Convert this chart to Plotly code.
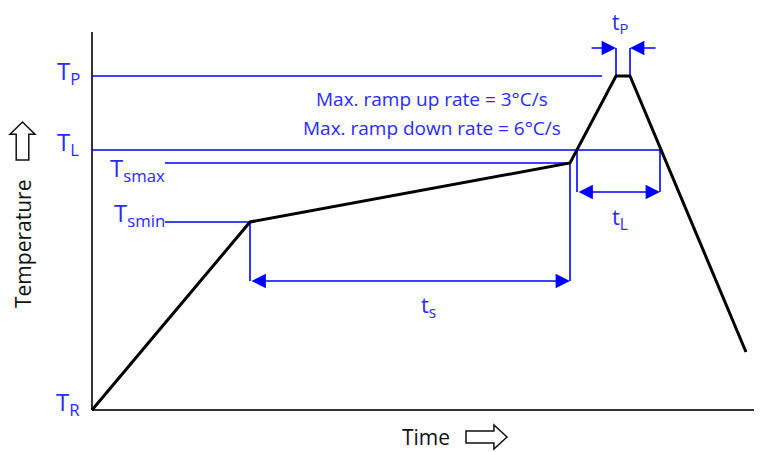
import plotly.graph_objects as go

# ---- data (time / temperature in arbitrary plot units) ----
profile_time = [0, 158, 478, 524, 538, 654]
profile_temp = [0, 188, 247, 334, 334, 58]

T_R, T_SMIN, T_SMAX, T_L, T_P = 0, 188, 247, 260, 334
t_soak = [158, 478]          # ts span
t_liq = [485, 568]           # tL span
t_peak = [524, 538]          # tp span

level_texts = ["T<sub>P</sub>", "T<sub>L</sub>", "T<sub>smax</sub>", "T<sub>smin</sub>", "T<sub>R</sub>"]
rate_texts = ["Max. ramp up rate = 3°C/s", "Max. ramp down rate = 6°C/s"]
span_texts = ["t<sub>s</sub>", "t<sub>L</sub>", "t<sub>P</sub>"]
x_title, y_title = "Time", "Temperature"

BLUE = "#0000FF"
TXT = "#2A2AFF"
FONT = "Open Sans"

fig = go.Figure()

def line(x, y, color=BLUE, width=1.6):
    fig.add_trace(go.Scatter(x=x, y=y, mode="lines", line=dict(color=color, width=width),
                             hoverinfo="skip", showlegend=False))

# axes
line([0, 0], [0, 378], "#333333", 2)
line([0, 670], [0, 0], "#333333", 2)

# guide lines
line([0, 510], [T_P, T_P])
line([0, t_liq[1]], [T_L, T_L])
line([73, t_soak[1]], [T_SMAX, T_SMAX])
line([73, t_soak[0]], [T_SMIN, T_SMIN])
line([t_soak[0], t_soak[0]], [T_SMIN, 129])
line([t_soak[1], t_soak[1]], [T_SMAX, 129])
line([t_liq[0], t_liq[0]], [T_L, 218])
line([t_liq[1], t_liq[1]], [T_L, 218])
line([t_peak[0], t_peak[0]], [T_P, 362])
line([t_peak[1], t_peak[1]], [T_P, 362])

# profile
line(profile_time, profile_temp, "#000000", 3)

def arrow(x0, x1, y, both=False):
    fig.add_annotation(x=x1, y=y, ax=x0, ay=y, xref="x", yref="y", axref="x", ayref="y",
                       text="", showarrow=True, arrowhead=2, arrowsize=1.8, arrowwidth=1.6,
                       arrowcolor=BLUE, standoff=0, startstandoff=0,
                       arrowside="end+start" if both else "end",
                       startarrowhead=2, startarrowsize=1.8)

arrow(t_soak[0], t_soak[1], 129, True)
arrow(t_liq[0], t_liq[1], 218, True)
arrow(498, t_peak[0], 362)
arrow(565, t_peak[1], 362)

def text(x, y, s, size, color=TXT, angle=0):
    fig.add_annotation(x=x, y=y, xref="x", yref="y", text=s, showarrow=False,
                       font=dict(family=FONT, size=size, color=color), textangle=angle,
                       xanchor="center", yanchor="middle")

level_pos = [(-24, 338), (-24, 267), (45, 241), (47, 196), (-24, 7)]
for (x, y), s in zip(level_pos, level_texts):
    text(x, y, s, 24)

text(340, 311, rate_texts[0], 19)
text(340, 282, rate_texts[1], 19)

span_pos = [(336, 104), (528, 192), (528, 387)]
span_sizes = [22, 22, 21]
for (x, y), s, fs in zip(span_pos, span_texts, span_sizes):
    text(x, y, s, fs)

text(334, -27, x_title, 21, "#111111")
text(-69, 166, y_title, 21, "#111111", -90)

# hollow block arrows next to the axis titles
def block_arrow(cx, cy, length, width, direction):
    hw, sw, hl = width / 2, width / 4, length * 0.32
    # points for an arrow pointing +x, centred at origin
    pts = [(-length / 2, sw), (length / 2 - hl, sw), (length / 2 - hl, hw), (length / 2, 0),
           (length / 2 - hl, -hw), (length / 2 - hl, -sw), (-length / 2, -sw)]
    if direction == "up":
        pts = [(-y, x) for x, y in pts]
    path = "M " + " L ".join(f"{cx + px:.1f},{cy + py:.1f}" for px, py in pts) + " Z"
    fig.add_shape(type="path", path=path, xref="x", yref="y",
                  line=dict(color="#111111", width=1.5), fillcolor="white")

block_arrow(394.5, -27, 41, 24, "right")
block_arrow(-69.5, 269, 38, 25, "up")

fig.update_layout(width=754, height=444, margin=dict(l=0, r=0, t=0, b=0),
                  paper_bgcolor="white", plot_bgcolor="white", showlegend=False,
                  xaxis=dict(range=[-84, 670], visible=False, fixedrange=True),
                  yaxis=dict(range=[-42, 402], visible=False, fixedrange=True))

fig.write_html("out.html")
